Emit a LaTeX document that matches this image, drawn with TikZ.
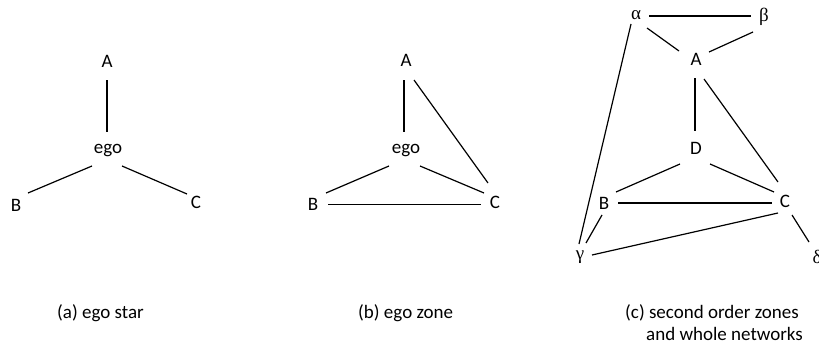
\documentclass[tikz,border=0pt]{standalone}
\usepackage{fontspec}
\setmainfont{Carlito}
\newfontfamily\grk{Liberation Serif}
\usetikzlibrary{calc}
\tikzset{
  lbl/.style={inner sep=0pt, font=\fontsize{19}{23}\selectfont},
  glbl/.style={inner sep=0pt, font=\grk\fontsize{19}{23}\selectfont},
  captxt/.style={inner sep=0pt, anchor=base west, font=\fontsize{19}{23}\selectfont},
  lnk/.style={line width=1.2pt, line cap=butt}
}
\begin{document}
\begin{tikzpicture}[x=1pt, y=-1pt]
\useasboundingbox (0,0) rectangle (819,345);
% ---------- (a) ego star ----------
\node[lbl] (aA) at (107,61) {A};
\node[lbl] (aego) at (108,151) {ego};
\node[lbl] (aB) at (16,205) {B};
\node[lbl] (aC) at (196,202) {C};
\draw[lnk] ($(aA)+(0,19)$) -- ($(aego)+(-1,-19)$);
\draw[lnk] ($(aego)+(-16,15)$) -- ($(aB)+(12,-12)$);
\draw[lnk] ($(aego)+(14,15)$) -- ($(aC)+(-9,-8)$);
% ---------- (b) ego zone ----------
\node[lbl] (bA) at (406,60) {A};
\node[lbl] (bego) at (406,151) {ego};
\node[lbl] (bB) at (313,204) {B};
\node[lbl] (bC) at (495,202) {C};
\draw[lnk] ($(bA)+(-2,20)$) -- ($(bego)+(-2,-19)$);
\draw[lnk] ($(bA)+(8,20)$) -- ($(bC)+(-7,-19)$);
\draw[lnk] ($(bego)+(-17,15)$) -- ($(bB)+(13,-11)$);
\draw[lnk] ($(bego)+(14,15)$) -- ($(bC)+(-11,-9)$);
\draw[lnk] ($(bB)+(15,0.5)$) -- ($(bC)+(-14,2.5)$);
% ---------- (c) second order zones ----------
\node[glbl] (cal) at (636,15) {α};
\node[glbl] (cbe) at (764,17) {β};
\node[lbl] (cA) at (696,59) {A};
\node[lbl] (cD) at (696,148) {D};
\node[lbl] (cB) at (604,203) {B};
\node[lbl] (cC) at (785,201) {C};
\node[glbl] (cga) at (580,257) {γ};
\node[glbl] (cde) at (817,257) {δ};
\draw[lnk] ($(cal)+(13,1)$) -- ($(cbe)+(-13,-1)$);
\draw[lnk] ($(cal)+(11,13)$) -- ($(cA)+(-17,-8)$);
\draw[lnk] ($(cbe)+(-11,15)$) -- ($(cA)+(13,-7)$);
\draw[lnk] ($(cal)+(-5,9)$) -- ($(cga)+(-1,-13)$);
\draw[lnk] ($(cA)+(-1,19)$) -- ($(cD)+(-1,-17)$);
\draw[lnk] ($(cA)+(8,20)$) -- ($(cC)+(-7,-19)$);
\draw[lnk] ($(cD)+(-16,16)$) -- ($(cB)+(12,-11)$);
\draw[lnk] ($(cD)+(14,16)$) -- ($(cC)+(-11,-9)$);
\draw[lnk] ($(cB)+(14,0)$) -- ($(cC)+(-13,2)$);
\draw[lnk] ($(cB)+(-2,12)$) -- ($(cga)+(6,-14)$);
\draw[lnk] ($(cC)+(-7,12)$) -- ($(cga)+(12,-2)$);
\draw[lnk] ($(cC)+(7,14)$) -- ($(cde)+(-8,-15)$);
% ---------- captions ----------
\node[captxt] (capa) at (57,318) {(a) ego star};
\node[captxt] (capb) at (358,318) {(b) ego zone};
\node[captxt] (capc1) at (625,318) {(c) second order zones};
\node[captxt] (capc2) at (646,340) {and whole networks};
\end{tikzpicture}
\end{document}
